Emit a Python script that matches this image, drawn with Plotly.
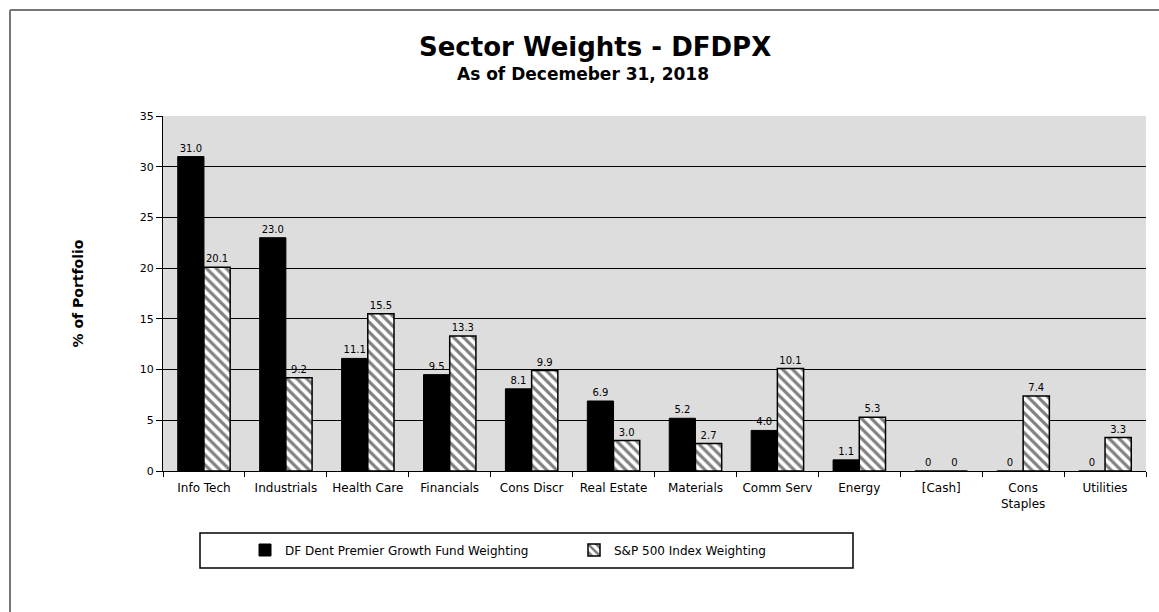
import plotly.graph_objects as go

# ---- data ----
sectors = ["Info Tech", "Industrials", "Health Care", "Financials", "Cons Discr",
           "Real Estate", "Materials", "Comm Serv", "Energy", "[Cash]",
           "Cons<br>Staples", "Utilities"]
fund_weights = [31.0, 23.0, 11.1, 9.5, 8.1, 6.9, 5.2, 4.0, 1.1, 0, 0, 0]
sp500_weights = [20.1, 9.2, 15.5, 13.3, 9.9, 3.0, 2.7, 10.1, 5.3, 0, 7.4, 3.3]
fund_name = "DF Dent Premier Growth Fund Weighting"
sp_name = "S&P 500 Index Weighting"
y_ticks = [0, 5, 10, 15, 20, 25, 30, 35]


def lab(v):
    return "0" if v == 0 else f"{v:.1f}"


# ---- geometry (pixels) ----
FW, FH = 1159, 612
L, R, T, B = 163, 1146, 116, 471
PW, PH = R - L, B - T


def px(x):
    return (x - L) / PW


def py(y):
    return (B - y) / PH


FONT = "DejaVu Sans, Liberation Sans, Arial, sans-serif"

fig = go.Figure()
fig.add_trace(go.Bar(
    x=sectors, y=fund_weights, name=fund_name,
    marker=dict(color="black", line=dict(color="black", width=1)),
    text=[lab(v) for v in fund_weights], textposition="outside",
    textfont=dict(size=10, color="black", family=FONT), cliponaxis=False,
))
fig.add_trace(go.Bar(
    x=sectors, y=sp500_weights, name=sp_name,
    marker=dict(color="white", line=dict(color="black", width=1.5),
                pattern=dict(shape="\\", fgcolor="black", bgcolor="white",
                             size=7, solidity=0.45)),
    text=[lab(v) for v in sp500_weights], textposition="outside",
    textfont=dict(size=10, color="black", family=FONT), cliponaxis=False,
))

shapes = [
    # outer frame (top and left)
    dict(type="line", xref="paper", yref="paper", x0=px(10), x1=px(FW + 5),
         y0=py(10), y1=py(10), line=dict(color="#777777", width=2)),
    dict(type="line", xref="paper", yref="paper", x0=px(10), x1=px(10),
         y0=py(10), y1=py(FH + 5), line=dict(color="#777777", width=2)),
    # legend box
    dict(type="rect", xref="paper", yref="paper", x0=px(200), x1=px(853),
         y0=py(533), y1=py(568), line=dict(color="black", width=1.5),
         fillcolor="rgba(0,0,0,0)"),
]

annotations = [
    dict(text="<b>Sector Weights - DFDPX</b>", xref="paper", yref="paper",
         x=px(595), y=py(47), showarrow=False, xanchor="center", yanchor="middle",
         font=dict(size=26, family=FONT, color="black")),
    dict(text="<b>As of Decemeber 31, 2018</b>", xref="paper", yref="paper",
         x=px(583), y=py(74), showarrow=False, xanchor="center", yanchor="middle",
         font=dict(size=17, family=FONT, color="black")),
]

fig.update_layout(
    width=FW, height=FH,
    margin=dict(l=L, r=FW - R, t=T, b=FH - B, autoexpand=False),
    paper_bgcolor="white", plot_bgcolor="#dddddd",
    font=dict(family=FONT, color="black", size=10),
    barmode="group", bargap=0.36, bargroupgap=0,
    shapes=shapes, annotations=annotations,
    legend=dict(orientation="h", x=px(245), y=py(550), xanchor="left",
                yanchor="middle", bgcolor="rgba(0,0,0,0)", borderwidth=0,
                font=dict(size=12, family=FONT, color="black"),
                entrywidth=284, entrywidthmode="pixels", itemwidth=30,
                traceorder="normal"),
    xaxis=dict(showline=True, linecolor="black", linewidth=1,
               ticks="outside", tickson="boundaries", ticklen=5,
               tickcolor="black", tickfont=dict(size=12, family=FONT),
               ticklabelstandoff=6, showgrid=False),
    yaxis=dict(range=[0, 35], tickvals=y_ticks, showline=True,
               linecolor="black", linewidth=1, ticks="outside", ticklen=6,
               tickcolor="black", showgrid=True, gridcolor="black",
               gridwidth=1, zeroline=False, tickfont=dict(size=11, family=FONT),
               title=dict(text="<b>% of Portfolio</b>", standoff=52,
                          font=dict(size=14, family=FONT))),
)

fig.write_html("out.html")
